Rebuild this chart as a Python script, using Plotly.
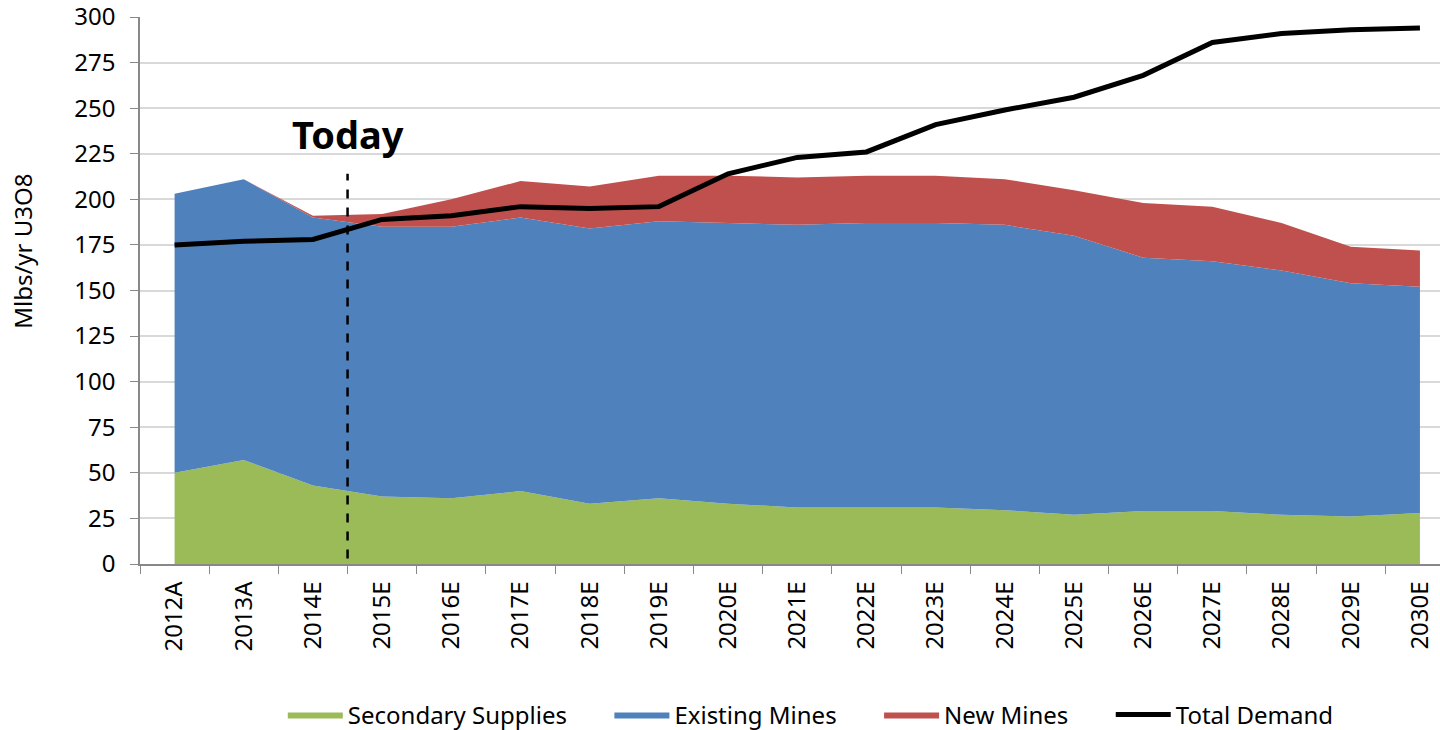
import plotly.graph_objects as go

years = ['2012A', '2013A', '2014E', '2015E', '2016E', '2017E', '2018E', '2019E', '2020E',
         '2021E', '2022E', '2023E', '2024E', '2025E', '2026E', '2027E', '2028E', '2029E', '2030E']

secondary = [50, 57, 43, 37, 36, 40, 33, 36, 33, 31, 31, 31, 29.5, 27, 29, 29, 27, 26, 28]
existing = [153, 154, 147, 148, 149, 150, 151, 152, 154, 155, 156, 156, 156.5, 153, 139, 137, 134, 128, 124]
new_mines = [0, 0, 1, 7, 15, 20, 23, 25, 26, 26, 26, 26, 25, 25, 30, 30, 26, 20, 20]
demand = [175, 177, 178, 189, 191, 196, 195, 196, 214, 223, 226, 241, 249, 256, 268, 286, 291, 293, 294]

# "Today" marker sits between 2014E and 2015E
today_x = 2.5
today_low, today_high = 3, 214
today_label_y = 236

font = 'Noto Sans'
pad = '\u00a0' * 6  # extra gap between legend entries

fig = go.Figure()
fig.add_trace(go.Scatter(x=years, y=secondary, name='Secondary Supplies' + pad, stackgroup='s',
                         mode='lines', line=dict(width=0, color='#9BBB59'), fillcolor='#9BBB59'))
fig.add_trace(go.Scatter(x=years, y=existing, name='Existing Mines' + pad, stackgroup='s',
                         mode='lines', line=dict(width=0, color='#4F81BD'), fillcolor='#4F81BD'))
fig.add_trace(go.Scatter(x=years, y=new_mines, name='New Mines' + pad, stackgroup='s',
                         mode='lines', line=dict(width=0, color='#C0504D'), fillcolor='#C0504D'))
fig.add_trace(go.Scatter(x=years, y=demand, name='Total Demand', mode='lines',
                         line=dict(width=5, color='black')))

fig.add_shape(type='line', x0=today_x, x1=today_x, y0=today_low, y1=today_high,
              xref='x', yref='y', line=dict(color='black', width=2.5, dash='dash'))
fig.add_annotation(x=today_x, y=today_label_y, text='<b>Today</b>', showarrow=False,
                   font=dict(size=38, color='black', family=font))

# y title sits a bit above the middle of the axis in the original
fig.add_annotation(xref='paper', yref='paper', x=-0.091, y=0.572, text='Mlbs/yr U3O8',
                   xanchor='center', yanchor='middle',
                   textangle=-90, showarrow=False, font=dict(size=24, color='black'))

fig.update_layout(
    width=1440, height=730,
    margin=dict(l=140, r=0, t=17, b=166, autoexpand=False),
    plot_bgcolor='white', paper_bgcolor='white',
    font=dict(family=font, size=24, color='black'),
    showlegend=True,
    legend=dict(orientation='h', x=0.516, xanchor='center', y=-0.276, yanchor='middle',
                font=dict(size=24), traceorder='normal', itemwidth=55),
    # plot area runs off the right edge like the original (cropped) chart
    xaxis=dict(type='category', range=[-0.5, 18.29], tickangle=-90, automargin=False,
               ticks='outside', tickson='boundaries', ticklen=8, tickcolor='#888',
               ticklabelstandoff=6,
               showline=True, linecolor='#888', linewidth=1.5, showgrid=False,
               tickfont=dict(size=24)),
    yaxis=dict(range=[0, 300.001], dtick=25, ticks='outside', ticklen=8, tickcolor='#888',
               automargin=False, ticklabelstandoff=10, ticklabeloverflow='allow',
               showline=True, linecolor='#888', linewidth=1.5,
               showgrid=True, gridcolor='#D9D9D9', gridwidth=1.5,
               tickfont=dict(size=24), zeroline=False),
)

# drop the default body margin so the figure fills the window exactly
fig.write_html('out.html', config={'displayModeBar': False},
               post_script="document.body.style.margin='0';")
